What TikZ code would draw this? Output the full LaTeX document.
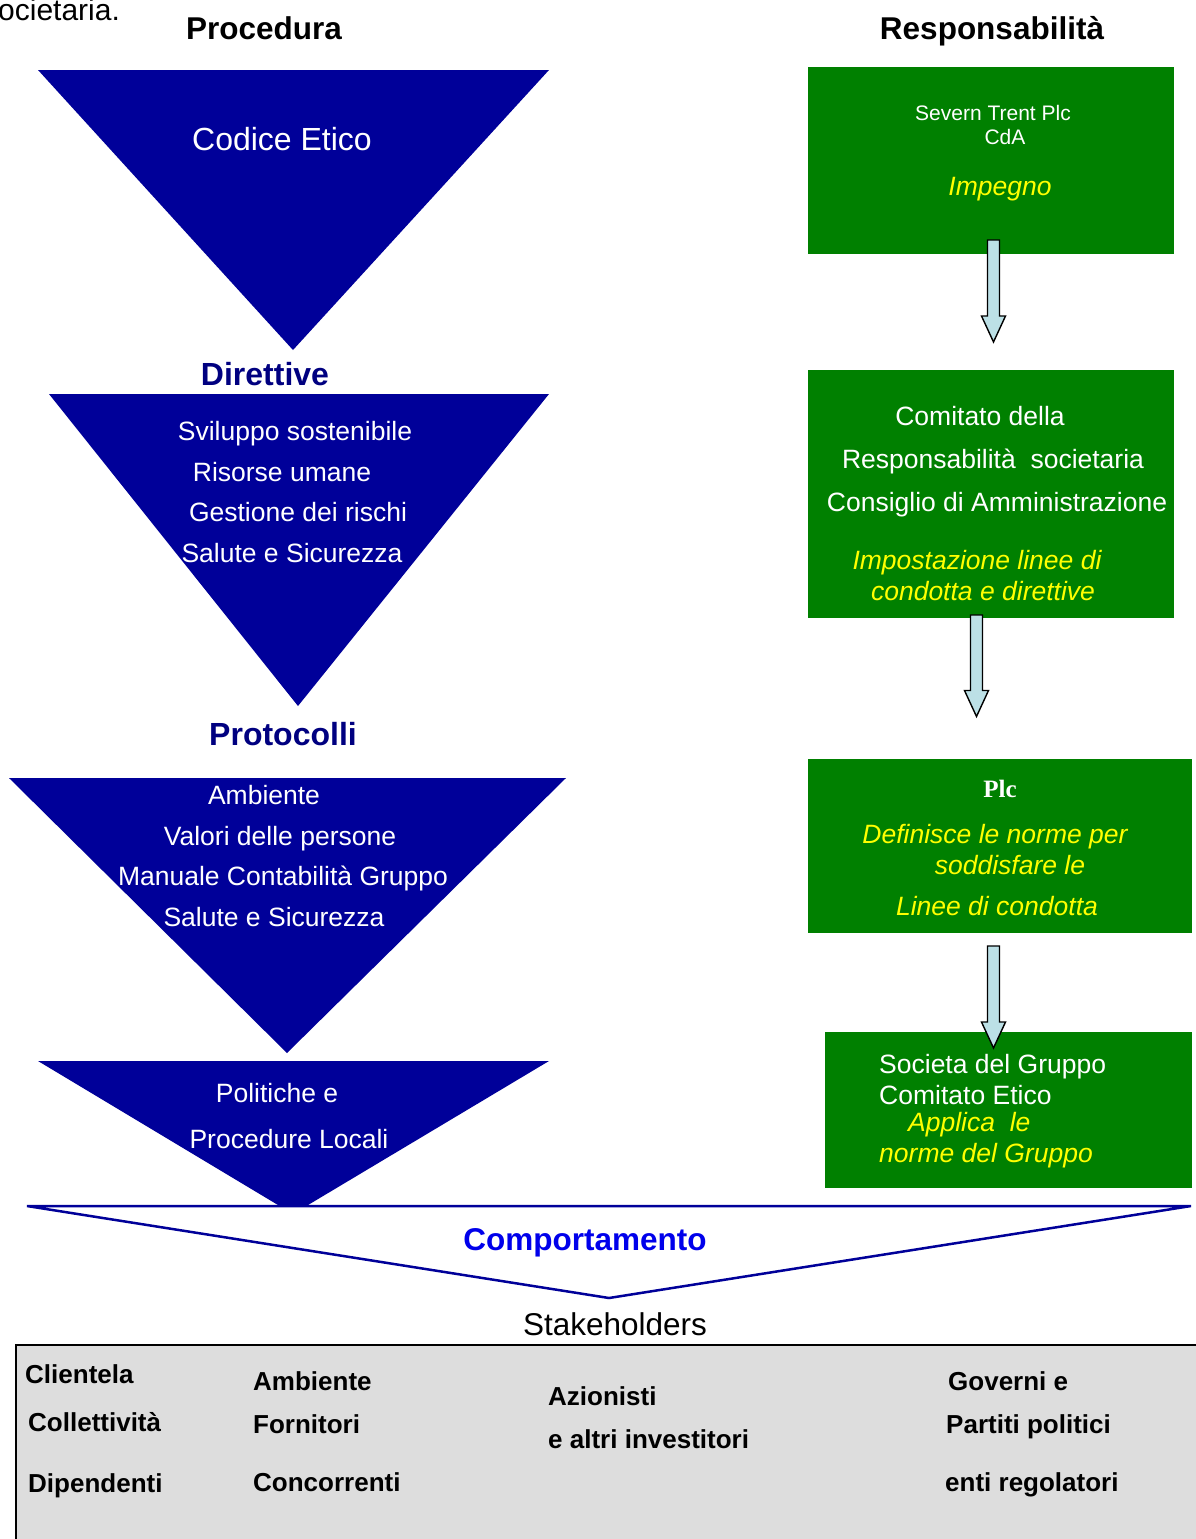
\documentclass[tikz,border=0pt]{standalone}
\usepackage{fontspec}
\setmainfont{Liberation Sans}
\newfontfamily\plcfont{Liberation Serif}
\newcommand\myfs[1]{\fontsize{#1}{#1}\selectfont}
\definecolor{navytri}{RGB}{0,0,153}
\definecolor{navytxt}{RGB}{0,0,128}
\definecolor{bluetxt}{RGB}{0,0,235}
\definecolor{boxgreen}{RGB}{0,128,0}
\definecolor{yel}{RGB}{255,255,0}
\definecolor{arrfill}{RGB}{188,224,230}
\definecolor{graybox}{RGB}{221,221,221}
\newcommand\blockarr[4]{% name, x, ytop, ytip
  \filldraw[arrowst] (#2-6,#3) coordinate (#1) -- (#2+6,#3) -- (#2+6,#4-26) -- (#2+12,#4-26) -- (#2,#4) -- (#2-12,#4-26) -- (#2-6,#4-26) -- cycle;}
\begin{document}
\begin{tikzpicture}[x=1pt,y=-1pt,
  tx/.style={inner sep=0pt, text height=0.72em, text depth=0pt, yshift=-7pt},
  head/.style={tx, font=\myfs{31.5}\bfseries},
  wt/.style={tx, text=white, font=\myfs{26.5}},
  ytx/.style={tx, text=yel, font=\myfs{26.5}\itshape},
  bt/.style={tx, anchor=west, font=\myfs{26}\bfseries},
  tri/.style={fill=navytri},
  gbox/.style={fill=boxgreen, draw=none, inner sep=0pt},
  arrowst/.style={fill=arrfill, draw=black, line width=1.4pt, line join=miter}]
\clip (0,0) rectangle (1196,1539);
\fill[white] (0,0) rectangle (1196,1539);

% header texts
\node[tx, anchor=west, font=\myfs{30}] (soc) at (-2,10) {ocietaria.};
\node[head] (hproc) at (264,29) {Procedura};
\node[head] (hresp) at (992,29) {Responsabilità};

% left triangles
\fill[tri] (38,70) coordinate (t1a) -- (549,70) coordinate (t1b) -- (293,350) coordinate (t1c) -- cycle;
\node[tx, text=white, font=\myfs{32}] (codice) at (282,140) {Codice Etico};

\node[tx, text=navytxt, font=\myfs{32}\bfseries] (dir) at (265,375) {Direttive};
\fill[tri] (49,394) coordinate (t2a) -- (549,394) coordinate (t2b) -- (298,706) coordinate (t2c) -- cycle;
\node[wt] (d1) at (295,430) {Sviluppo sostenibile};
\node[wt] (d2) at (282,471) {Risorse umane};
\node[wt] (d3) at (298,511) {Gestione dei rischi};
\node[wt] (d4) at (292,552) {Salute e Sicurezza};

\node[tx, text=navytxt, font=\myfs{32}\bfseries] (prot) at (283,735) {Protocolli};
\fill[tri] (9,778) coordinate (t3a) -- (566,778) coordinate (t3b) -- (287,1053) coordinate (t3c) -- cycle;
\node[wt] (p1) at (264,794) {Ambiente};
\node[wt] (p2) at (280,835) {Valori delle persone};
\node[wt] (p3) at (283,875) {Manuale Contabilità Gruppo};
\node[wt] (p4) at (274,916) {Salute e Sicurezza};

\fill[tri] (38,1061) coordinate (t4a) -- (549,1061) coordinate (t4b) -- (293,1214) coordinate (t4c) -- cycle;
\node[wt] (l1) at (277,1092) {Politiche e};
\node[wt] (l2) at (289,1138) {Procedure Locali};

% Comportamento triangle
\filldraw[fill=white, draw=navytri, line width=2.5pt, line join=miter]
  (27,1206) coordinate (ca) -- (1191,1206) coordinate (cb) -- (609,1298) coordinate (cc) -- cycle;
\node[tx, text=bluetxt, font=\myfs{31.5}\bfseries] (comp) at (585,1240) {Comportamento};
\node[tx, font=\myfs{31.5}] (stake) at (615,1325) {Stakeholders};

% right green boxes
\node[gbox, minimum width=366pt, minimum height=187pt] (b1) at (991,160.5) {};
\node[wt, font=\myfs{21}] (b1a) at (993,110) {Severn Trent Plc};
\node[wt, font=\myfs{21}] (b1b) at (1005,134) {CdA};
\node[ytx] (b1c) at (1000,185) {Impegno};

\node[gbox, minimum width=366pt, minimum height=248pt] (b2) at (991,494) {};
\node[wt] (b2a) at (980,415) {Comitato della};
\node[wt] (b2b) at (993,458) {Responsabilità\ \ societaria};
\node[wt] (b2c) at (997,501) {Consiglio di Amministrazione};
\node[ytx] (b2d) at (977,559) {Impostazione linee di};
\node[ytx] (b2e) at (983,590) {condotta e direttive};

\node[gbox, minimum width=384pt, minimum height=174pt] (b3) at (1000,846) {};
\node[tx, text=white, font=\myfs{25}\plcfont\bfseries] (b3a) at (1000,787) {Plc};
\node[ytx] (b3b) at (995,833) {Definisce le norme per};
\node[ytx] (b3c) at (1010,864) {soddisfare le};
\node[ytx] (b3d) at (997,905) {Linee di condotta};

\node[gbox, minimum width=367pt, minimum height=156pt] (b4) at (1008.5,1110) {};
\node[wt, anchor=west] (b4a) at (879,1063) {Societa del Gruppo};
\node[wt, anchor=west] (b4b) at (879,1094) {Comitato Etico};
\node[ytx, anchor=west] (b4c) at (908,1121) {Applica\ \ le};
\node[ytx, anchor=west] (b4d) at (879,1152) {norme del Gruppo};

% block arrows
\blockarr{a1}{993.5}{240}{342}
\blockarr{a2}{976.5}{615}{716.5}
\blockarr{a3}{993.5}{946}{1048}

% stakeholders box
\filldraw[fill=graybox, draw=black, line width=2pt] (16,1345) coordinate (sa) rectangle (1215,1560) coordinate (sb);
\node[bt] (s1) at (25,1373) {Clientela};
\node[bt] (s2) at (28,1421) {Collettività};
\node[bt] (s3) at (28,1482) {Dipendenti};
\node[bt] (s4) at (253,1380) {Ambiente};
\node[bt] (s5) at (253,1423) {Fornitori};
\node[bt] (s6) at (253,1481) {Concorrenti};
\node[bt] (s7) at (548,1395) {Azionisti};
\node[bt] (s8) at (548,1438) {e altri investitori};
\node[bt] (s9) at (948,1380) {Governi e};
\node[bt] (s10) at (946,1423) {Partiti politici};
\node[bt] (s11) at (945,1481) {enti regolatori};
\end{tikzpicture}
\end{document}
